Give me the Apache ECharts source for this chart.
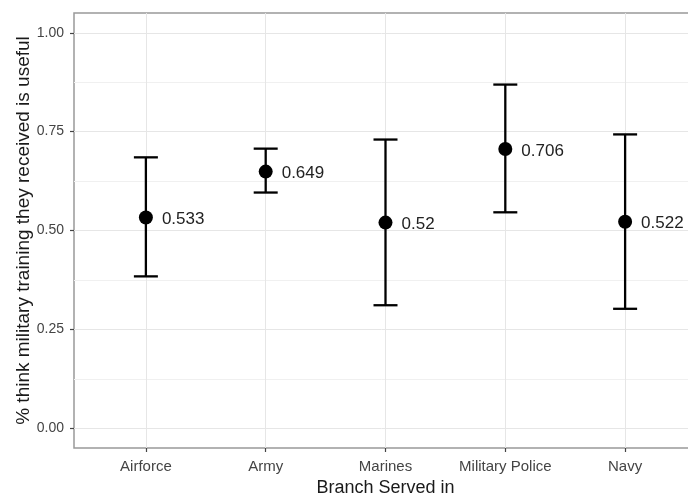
<!DOCTYPE html>
<html>
<head>
<meta charset="utf-8">
<script src="https://cdn.jsdelivr.net/npm/echarts@6/dist/echarts.min.js"></script>
<style>
html,body{margin:0;padding:0;background:#fff;}
#chart{width:688px;height:494px;}
</style>
</head>
<body>
<div id="chart"></div>
<script>
var categories = ['Airforce', 'Army', 'Marines', 'Military Police', 'Navy'];
var means = [0.533, 0.649, 0.52, 0.706, 0.522];
var lower = [0.384, 0.596, 0.311, 0.546, 0.302];
var upper = [0.685, 0.707, 0.730, 0.869, 0.743];
var yMajorTicks = [0, 0.25, 0.5, 0.75, 1];
var yMinorTicks = [0.125, 0.375, 0.625, 0.875];
var xPositions = [1, 2, 3, 4, 5];

var pointData = xPositions.map(function (x, i) { return [x, means[i]]; });
var barData = xPositions.map(function (x, i) { return [x, lower[i], upper[i]]; });

var chart = echarts.init(document.getElementById('chart'), null, {renderer: 'canvas'});
var font = 'Liberation Sans, Arial, sans-serif';

chart.setOption({
  backgroundColor: '#ffffff',
  animation: false,
  grid: {
    left: 74, top: 13, width: 623, height: 435,
    outerBoundsMode: 'none', containLabel: false,
    show: true, borderColor: '#999999', borderWidth: 1.5, backgroundColor: 'transparent'
  },
  xAxis: {
    type: 'value', min: 0.4, max: 5.6,
    name: 'Branch Served in', nameLocation: 'middle', nameGap: 31, nameMoveOverlap: false,
    nameTextStyle: {fontFamily: font, fontSize: 18, color: '#1a1a1a'},
    axisLine: {show: false, onZero: false},
    axisTick: {show: true, length: 4, lineStyle: {color: '#444', width: 1.2}, customValues: xPositions},
    axisLabel: {
      customValues: xPositions, margin: 11,
      fontFamily: font, fontSize: 15, color: '#444',
      formatter: function (v) { return categories[Math.round(v) - 1] || ''; }
    },
    splitLine: {show: true, lineStyle: {color: '#e6e6e6', width: 1}}
  },
  yAxis: [{
    type: 'value', min: -0.05, max: 1.05,
    name: '% think military training they received is useful',
    nameLocation: 'middle', nameGap: 41, nameRotate: 90, nameMoveOverlap: false,
    nameTextStyle: {fontFamily: font, fontSize: 19, color: '#1a1a1a'},
    axisLine: {show: false, onZero: false},
    axisTick: {show: true, length: 4, lineStyle: {color: '#444', width: 1.2}, customValues: yMajorTicks},
    axisLabel: {
      customValues: yMajorTicks, margin: 10,
      fontFamily: font, fontSize: 14, color: '#444',
      formatter: function (v) { return v.toFixed(2); }
    },
    splitLine: {show: true, lineStyle: {color: '#e6e6e6', width: 1}}
  }, {
    type: 'value', min: -0.05, max: 1.05, position: 'left',
    axisLine: {show: false, onZero: false},
    axisTick: {show: false, customValues: yMinorTicks},
    axisLabel: {show: false, customValues: yMinorTicks},
    splitLine: {show: true, lineStyle: {color: '#f0f0f0', width: 1}}
  }],
  series: [{
    type: 'custom',
    data: barData,
    z: 3,
    renderItem: function (params, api) {
      var x = api.value(0);
      var lo = api.coord([x, api.value(1)]);
      var hi = api.coord([x, api.value(2)]);
      var half = 12;
      var style = {stroke: '#000', lineWidth: 2.3};
      return {
        type: 'group',
        children: [
          {type: 'line', shape: {x1: lo[0], y1: lo[1], x2: hi[0], y2: hi[1]}, style: style},
          {type: 'line', shape: {x1: lo[0] - half, y1: lo[1], x2: lo[0] + half, y2: lo[1]}, style: style},
          {type: 'line', shape: {x1: hi[0] - half, y1: hi[1], x2: hi[0] + half, y2: hi[1]}, style: style}
        ]
      };
    }
  }, {
    type: 'scatter',
    data: pointData,
    z: 4,
    symbol: 'circle',
    symbolSize: 14,
    itemStyle: {color: '#000', opacity: 1},
    label: {
      show: true, position: 'right', distance: 9, offset: [0, 2],
      fontFamily: font, fontSize: 17, color: '#222',
      formatter: function (p) { return String(p.value[1]); }
    },
    emphasis: {disabled: true}
  }]
});
</script>
</body>
</html>
